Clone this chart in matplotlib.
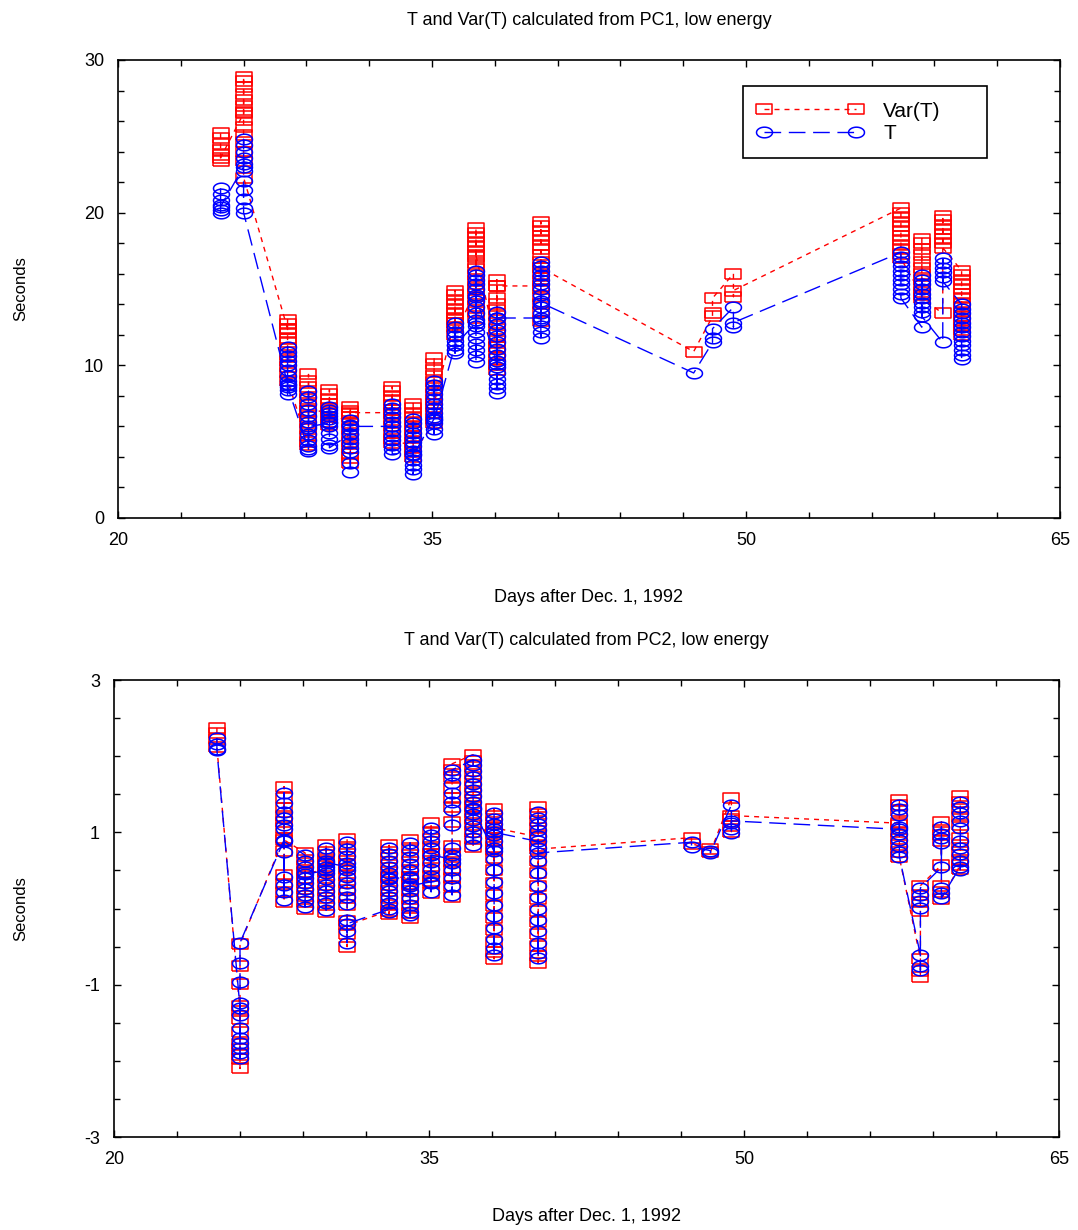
import numpy as np
import matplotlib.pyplot as plt

plt.rcParams['font.family'] = ['Liberation Sans', 'DejaVu Sans']
plt.rcParams['axes.unicode_minus'] = False

# day of each observation cluster (days after Dec. 1, 1992)
days = [24.9, 26.0, 28.1, 29.1, 30.1, 31.1, 33.1, 34.1, 35.1, 36.1,
        37.1, 38.1, 40.2, 47.5, 48.4, 49.4, 57.4, 58.4, 59.4, 60.3]

# tick positions
x_major = [20, 35, 50, 65]
y1_major = [0, 10, 20, 30]
y2_major = [-3, -1, 1, 3]

# PC1, low energy: Var(T) and T per cluster (seconds)
pc1_var = [
    [25.2, 24.9, 24.5, 24.1, 23.8, 23.4, 23.6],
    [26.5, 28.9, 28.6, 28.2, 27.8, 27.4, 27.0, 26.6, 26.1, 25.6, 25.1, 24.6, 24.0, 23.4, 22.3],
    [12.4, 13.0, 12.7, 12.4, 12.1, 11.8, 11.5, 11.1, 10.7, 10.3, 9.9, 9.5, 9.0],
    [4.8, 9.4, 9.0, 8.6, 8.2, 7.8, 7.4, 7.0, 6.6, 6.2, 5.8, 5.4, 5.0, 7.0],
    [7.0, 8.4, 8.1, 7.8, 7.5, 7.2, 6.9, 6.6, 6.3, 6.1],
    [6.8, 7.3, 7.0, 6.6, 6.2, 5.8, 5.4, 5.0, 4.6, 4.2, 3.9, 3.6, 6.9],
    [6.9, 8.6, 8.3, 8.0, 7.7, 7.4, 7.1, 6.8, 6.4, 6.0, 5.6, 5.2, 4.9],
    [4.9, 7.5, 7.2, 6.9, 6.6, 6.3, 6.0, 5.7, 5.4, 5.0, 4.6, 4.0, 4.3],
    [6.2, 10.5, 10.1, 9.7, 9.3, 8.9, 8.5, 8.1, 7.7, 7.3, 6.9, 6.5, 7.5],
    [13.0, 14.9, 14.6, 14.3, 14.0, 13.7, 13.4, 13.1, 12.8, 12.5, 12.0],
    [15.0, 19.0, 18.7, 18.4, 18.1, 17.8, 17.5, 17.1, 16.7, 16.3, 15.9, 15.5, 15.1, 14.7,
     14.3, 13.9, 13.5, 13.1, 17.2],
    [11.2, 15.6, 15.2, 14.4, 14.0, 13.6, 13.2, 12.8, 12.4, 12.0, 11.6, 11.2, 10.8, 10.4,
     10.0, 9.7, 15.2],
    [15.2, 19.4, 19.1, 18.8, 18.5, 18.2, 17.9, 17.6, 17.2, 16.8, 16.4, 16.0, 15.5, 15.0,
     14.5, 14.0, 13.5, 12.9, 16.4],
    [10.9],
    [13.2, 13.4, 14.4],
    [16.0, 14.5, 14.9],
    [20.3, 20.0, 19.7, 19.4, 19.1, 18.8, 18.5, 18.2, 17.9, 17.6, 17.3, 17.0],
    [14.6, 18.3, 18.0, 17.6, 17.2, 16.8, 16.4, 16.0, 15.6, 15.2, 14.8, 14.4],
    [13.4, 19.8, 19.5, 19.2, 18.9, 18.6, 18.3, 18.0, 17.7],
    [16.2, 15.9, 15.6, 15.3, 15.0, 14.7, 14.4, 14.1, 13.8, 13.5, 13.2, 12.9, 12.6, 12.3, 12.0],
]
pc1_t = [
    [21.6, 21.2, 20.8, 20.5, 20.2, 20.0, 20.4],
    [23.0, 24.8, 24.4, 24.0, 23.6, 23.2, 22.7, 22.1, 21.5, 20.9, 20.3, 20.0],
    [8.8, 11.2, 10.9, 10.6, 10.3, 10.0, 9.7, 9.3, 9.0, 8.7, 8.4, 8.1, 8.6],
    [4.5, 8.3, 7.9, 7.5, 7.1, 6.7, 6.3, 5.9, 5.5, 5.1, 4.7, 4.4, 6.0],
    [6.2, 7.3, 7.1, 6.9, 6.7, 6.5, 6.3, 6.0, 5.6, 5.2, 4.8, 4.6],
    [5.5, 6.4, 6.1, 5.8, 5.5, 5.2, 4.9, 4.6, 4.3, 3.6, 3.0, 6.0],
    [6.0, 7.5, 7.2, 6.9, 6.6, 6.3, 6.0, 5.7, 5.4, 5.1, 4.8, 4.5, 4.2],
    [4.2, 6.5, 6.2, 5.9, 5.6, 5.3, 5.0, 4.7, 4.4, 3.8, 3.5, 3.2, 2.9, 4.1],
    [6.5, 9.0, 8.7, 8.4, 8.1, 7.8, 7.5, 7.2, 6.9, 6.6, 6.2, 5.8, 5.5, 6.4],
    [11.3, 12.8, 12.5, 12.2, 11.9, 11.6, 11.0, 10.8, 11.3],
    [12.8, 16.2, 15.9, 15.6, 15.3, 15.0, 14.6, 14.2, 13.8, 13.4, 13.0, 12.6, 12.2, 11.8,
     11.4, 11.0, 10.6, 10.2, 14.5],
    [10.1, 13.5, 13.1, 12.7, 12.3, 11.9, 11.5, 11.1, 10.7, 10.3, 9.9, 9.5, 9.1, 8.8,
     8.5, 8.2, 13.1],
    [13.1, 16.8, 16.5, 16.2, 15.9, 15.6, 15.3, 15.0, 14.6, 14.2, 13.8, 13.4, 13.0, 12.6,
     12.2, 11.8, 14.1],
    [9.5],
    [11.5, 11.8, 12.4],
    [13.8, 12.5, 12.8],
    [17.4, 17.1, 16.8, 16.5, 16.2, 15.9, 15.6, 15.3, 15.0, 14.7, 14.4],
    [12.5, 15.9, 15.6, 15.3, 15.0, 14.7, 14.4, 14.1, 13.8, 13.5, 13.2],
    [11.5, 17.0, 16.7, 16.4, 16.1, 15.8, 15.5],
    [14.0, 13.7, 13.4, 13.1, 12.8, 12.5, 12.2, 11.9, 11.6, 11.3, 11.0, 10.7, 10.4],
]

# PC2, low energy
pc2_var = [
    [2.37, 2.30, 2.22, 2.12],
    [-1.35, -1.85, -1.92, -2.10, -1.98, -1.78, -1.62, -1.45, -1.28, -0.99, -0.75, -0.47],
    [0.93, 1.60, 1.45, 1.32, 1.22, 1.13, 1.06, 0.76, 0.44, 0.32, 0.22, 0.09, 0.90],
    [0.73, 0.64, 0.56, 0.48, 0.40, 0.33, 0.25, 0.17, 0.09, 0.00, 0.46],
    [0.51, 0.83, 0.74, 0.65, 0.56, 0.48, 0.40, 0.31, 0.23, 0.14, 0.05, -0.05, 0.62],
    [0.57, 0.91, 0.81, 0.71, 0.62, 0.52, 0.43, 0.33, 0.24, 0.14, 0.04, -0.17, -0.33, -0.50, -0.22],
    [-0.03, 0.83, 0.74, 0.66, 0.57, 0.48, 0.40, 0.31, 0.23, 0.14, 0.05, -0.07, 0.41],
    [0.41, 0.90, 0.80, 0.70, 0.61, 0.51, 0.42, 0.32, 0.23, 0.13, 0.03, -0.06, -0.12, 0.31],
    [0.36, 1.12, 1.01, 0.91, 0.81, 0.72, 0.62, 0.53, 0.43, 0.33, 0.20, 0.72],
    [0.67, 0.82, 0.72, 0.61, 0.51, 0.40, 0.29, 0.15, 1.13, 1.33, 1.45, 1.58, 1.72, 1.82, 1.90],
    [2.02, 1.94, 1.86, 1.77, 1.68, 1.60, 1.52, 1.43, 1.35, 1.26, 1.18, 1.09, 1.00, 0.91, 0.81, 1.33],
    [0.77, 1.30, 1.22, 1.14, 1.06, 0.98, 0.89, 0.81, 0.66, 0.50, 0.34, 0.18, 0.03, -0.12,
     -0.28, -0.44, -0.57, -0.66, 1.06],
    [0.94, 1.33, 1.24, 1.15, 1.06, 0.97, 0.82, 0.63, 0.46, 0.29, 0.13, -0.03, -0.18, -0.34,
     -0.49, -0.63, -0.71, 0.78],
    [0.93, 0.85],
    [0.78, 0.74],
    [1.45, 1.18, 1.08, 1.01, 1.22],
    [1.12, 1.43, 1.36, 1.28, 1.10, 1.00, 0.91, 0.83, 0.74, 0.67],
    [-0.66, -0.82, -0.90, -0.03, 0.08, 0.18, 0.30],
    [0.57, 1.14, 1.03, 0.96, 0.89, 0.30, 0.22, 0.13],
    [0.57, 0.52, 0.64, 0.74, 0.83, 0.92, 1.10, 1.20, 1.30, 1.40, 1.48],
]
pc2_t = [
    [2.24, 2.16, 2.10, 2.08],
    [-1.30, -1.77, -1.83, -1.96, -1.90, -1.70, -1.57, -1.40, -1.24, -0.96, -0.72, -0.45],
    [0.90, 1.52, 1.39, 1.27, 1.19, 1.10, 1.04, 0.74, 0.42, 0.31, 0.22, 0.11, 0.88],
    [0.70, 0.62, 0.55, 0.48, 0.40, 0.33, 0.26, 0.18, 0.10, 0.02, 0.45],
    [0.50, 0.79, 0.71, 0.63, 0.55, 0.47, 0.39, 0.31, 0.23, 0.15, 0.07, -0.02, 0.60],
    [0.55, 0.87, 0.78, 0.69, 0.60, 0.51, 0.42, 0.33, 0.24, 0.15, 0.06, -0.15, -0.30, -0.45, -0.20],
    [-0.01, 0.79, 0.71, 0.63, 0.55, 0.47, 0.39, 0.31, 0.23, 0.15, 0.07, -0.05, 0.40],
    [0.40, 0.86, 0.77, 0.68, 0.59, 0.50, 0.41, 0.32, 0.23, 0.14, 0.05, -0.04, -0.09, 0.30],
    [0.35, 1.06, 0.97, 0.88, 0.79, 0.70, 0.61, 0.52, 0.43, 0.34, 0.22, 0.70],
    [0.65, 0.79, 0.70, 0.60, 0.50, 0.40, 0.30, 0.18, 1.10, 1.29, 1.40, 1.52, 1.65, 1.75, 1.82],
    [1.95, 1.88, 1.80, 1.72, 1.64, 1.56, 1.48, 1.40, 1.32, 1.24, 1.16, 1.08, 1.00, 0.92, 0.83, 1.30],
    [0.75, 1.25, 1.18, 1.11, 1.04, 0.96, 0.88, 0.80, 0.65, 0.50, 0.35, 0.20, 0.05, -0.10,
     -0.25, -0.40, -0.52, -0.61, 1.00],
    [0.88, 1.27, 1.19, 1.11, 1.03, 0.95, 0.80, 0.62, 0.46, 0.30, 0.15, 0.00, -0.15, -0.30,
     -0.45, -0.58, -0.65, 0.73],
    [0.87, 0.81],
    [0.76, 0.73],
    [1.36, 1.12, 1.04, 0.99, 1.15],
    [1.04, 1.36, 1.30, 1.23, 1.07, 0.98, 0.90, 0.82, 0.74, 0.68],
    [-0.61, -0.75, -0.81, 0.01, 0.10, 0.18, 0.27],
    [0.54, 1.07, 0.98, 0.92, 0.86, 0.27, 0.20, 0.14],
    [0.55, 0.51, 0.62, 0.72, 0.80, 0.88, 1.06, 1.15, 1.25, 1.33, 1.40],
]


def expand(groups):
    x = np.concatenate([[d] * len(g) for d, g in zip(days, groups)])
    y = np.concatenate(groups)
    return x, y


# wide open markers like the original
rect = [(-1.5, -1), (1.5, -1), (1.5, 1), (-1.5, 1), (-1.5, -1)]
tt = np.linspace(0, 2 * np.pi, 41)
ellipse = list(zip(1.5 * np.cos(tt), np.sin(tt)))

fig = plt.figure(figsize=(10.78, 12.30), dpi=100)
ax1 = fig.add_axes([118 / 1078, 1 - 518 / 1230, 942 / 1078, 458 / 1230])
ax2 = fig.add_axes([114 / 1078, 1 - 1137 / 1230, 945 / 1078, 457 / 1230])


def draw(ax, var, t, ylim, yticks, ystep, title):
    xv, yv = expand(var)
    xt, yt = expand(t)
    ax.plot(xv, yv, color='red', lw=1, ls=(0, (3.6, 3.6)), marker=rect, ms=11.5,
            mfc='none', mec='red', mew=1.1, label='Var(T)')
    ax.plot(xt, yt, color='blue', lw=1, ls=(0, (12, 5.5)), marker=ellipse, ms=11.5,
            mfc='none', mec='blue', mew=1.1, label='T')
    ax.set_xlim(20, 65)
    ax.set_ylim(*ylim)
    ax.set_xticks(x_major)
    ax.set_xticks(np.arange(20, 65.1, 3), minor=True)
    ax.set_yticks(yticks)
    ax.set_yticks(np.arange(ylim[0], ylim[1] + 0.01, ystep), minor=True)
    ax.tick_params(which='both', direction='in', top=True, right=True, width=1,
                   labelsize=13, pad=10)
    ax.tick_params(which='major', length=5)
    ax.tick_params(which='minor', length=4)
    for s in ax.spines.values():
        s.set_linewidth(1.2)
    ax.set_title(title, fontsize=13, pad=25)
    ax.set_xlabel('Days after Dec. 1, 1992', fontsize=13)
    ax.set_ylabel('Seconds', fontsize=12)
    ax.xaxis.set_label_coords(0.5, -0.155)


draw(ax1, pc1_var, pc1_t, (0, 30), y1_major, 2,
     'T and Var(T) calculated from PC1, low energy')
draw(ax2, pc2_var, pc2_t, (-3, 3), y2_major, 0.5,
     'T and Var(T) calculated from PC2, low energy')
ax1.yaxis.set_label_coords(-0.095, 0.5)
ax2.yaxis.set_label_coords(-0.091, 0.5)

# legend box spans roughly x 743-987 px, y 86-156 px of the figure
leg = ax1.legend(loc='upper left', bbox_to_anchor=(0.663, 0.790, 0.26, 0.153),
                 mode='expand', borderaxespad=0, numpoints=2, handlelength=5.0,
                 handletextpad=1.0, fontsize=15, labelspacing=0.15, borderpad=0.75,
                 fancybox=False, framealpha=1, edgecolor='black')
leg.get_frame().set_linewidth(1.2)

fig.savefig('out.png', dpi=100)
